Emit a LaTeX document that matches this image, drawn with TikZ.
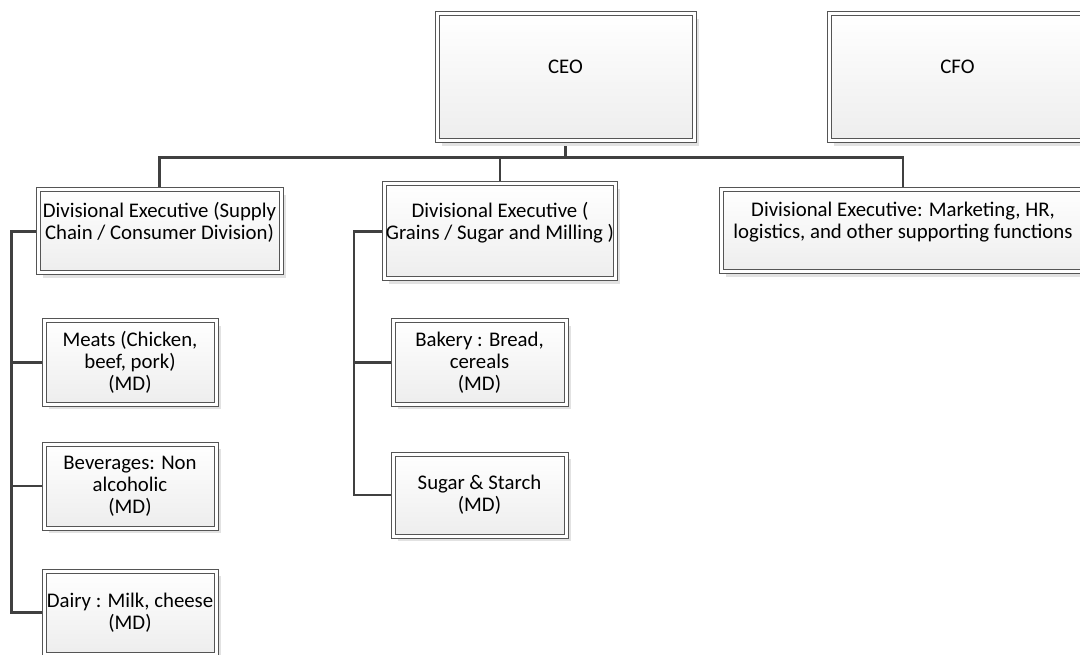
\documentclass[tikz,border=0pt]{standalone}
\usepackage{fontspec}
\setmainfont{Carlito}
\usetikzlibrary{shadows,backgrounds}
\definecolor{boxline}{HTML}{555555}
\definecolor{linkline}{HTML}{404040}
\definecolor{shadowgray}{HTML}{E2E2E2}

\begin{document}
\begin{tikzpicture}[x=0.75pt,y=-0.75pt,
    font=\fontsize{15.6}{16.4}\selectfont,
    orgbox/.style={draw=boxline,line width=0.75pt,double=white,double distance=2.25pt,
                   top color=white,bottom color=black!7,inner sep=0pt,align=center,
                   drop shadow={shadow xshift=3.5pt,shadow yshift=-3.5pt,fill=shadowgray,opacity=1}},
    boxsize/.style 2 args={minimum width=#1*0.75pt,minimum height=#2*0.75pt},
    link/.style={draw=linkline,line width=1.9pt}]
  \useasboundingbox (0,0) rectangle (1080,655);
  \clip (0,0) rectangle (1080,655);

  % top level
  \node[orgbox,boxsize={257}{127}] (ceo) at (565.5,77.5) {CEO\\~};
  \node[orgbox,boxsize={257}{127}] (cfo) at (957.5,77.5) {CFO\\~};

  % divisions
  \node[orgbox,boxsize={243}{83}] (divL) at (159.5,231.5)
    {Divisional Executive (Supply\\Chain / Consumer Division)\\~};
  \node[orgbox,boxsize={231}{95}] (divM) at (500,231.5)
    {Divisional Executive (\\Grains / Sugar and Milling )\\~};
  \node[orgbox,boxsize={364}{82}] (divR) at (903,231)
    {Divisional Executive: Marketing, HR,\\logistics, and other supporting functions\\~};

  % business units
  \node[orgbox,boxsize={172}{83}] (meats)  at (130,362.5) {Meats (Chicken,\\beef, pork)\\(MD)};
  \node[orgbox,boxsize={172}{84}] (bev)    at (130,486)   {Beverages: Non\\alcoholic\\(MD)};
  \node[orgbox,boxsize={172}{83}] (dairy)  at (130,612.5) {Dairy : Milk, cheese\\(MD)};
  \node[orgbox,boxsize={173}{83}] (bakery) at (479.5,362.5) {Bakery : Bread,\\cereals\\(MD)};
  \node[orgbox,boxsize={173}{82}] (sugar)  at (479.5,495)   {Sugar \& Starch\\(MD)};

  \begin{scope}[on background layer]
    \draw[link] (ceo.south) -- ++(0,16) coordinate (bus) -| (divL.north);
    \draw[link] (bus) -| (divR.north);
    \draw[link] (bus -| divM.north) -- (divM.north);
    % left branch
    \draw[link] (divL.west) -- ++(-26,0) coordinate (spL) |- (dairy.west);
    \draw[link] (spL |- meats.west) -- (meats.west);
    \draw[link] (spL |- bev.west) -- (bev.west);
    % middle branch
    \draw[link] (divM.west) -- ++(-30,0) coordinate (spM) |- (sugar.west);
    \draw[link] (spM |- bakery.west) -- (bakery.west);
  \end{scope}
\end{tikzpicture}
\end{document}
